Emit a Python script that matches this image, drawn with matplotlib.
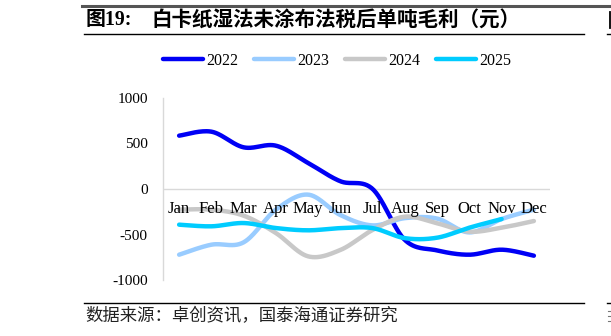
import numpy as np
import matplotlib
matplotlib.use("Agg")
import matplotlib.pyplot as plt
from matplotlib.lines import Line2D
import matplotlib.transforms as mtransforms

months = ["Jan", "Feb", "Mar", "Apr", "May", "Jun", "Jul", "Aug", "Sep", "Oct", "Nov", "Dec"]
y2022 = [586, 630, 458, 476, 286, 85, 0, -560, -675, -722, -667, -733]
y2023 = [-722, -612, -586, -227, -62, -286, -400, -320, -325, -477, -330, -227]
y2024 = [-227, -227, -293, -484, -740, -670, -450, -304, -377, -469, -425, -352]
y2025 = [-392, -410, -374, -429, -454, -430, -430, -540, -535, -425, -330]
series_names = ["2022", "2023", "2024", "2025"]
series_vals = [y2022, y2023, y2024, y2025]
colors = ["#0000F5", "#99CCFF", "#C8C8C8", "#00CCFF"]
yticks = [-1000, -500, 0, 500, 1000]

title_head = "图19:"
title_body = "白卡纸湿法未涂布法税后单吨毛利（元）"
source = "数据来源：卓创资讯，国泰海通证券研究"

SERIF = ["Liberation Serif", "Noto Sans CJK SC"]
CJK = ["Noto Sans CJK SC", "DejaVu Sans"]


def smooth(xs, ys, n=30):
    xs = np.asarray(xs, float)
    ys = np.asarray(ys, float)
    pts = np.column_stack([xs, ys])
    m = len(pts)
    out = []
    for i in range(m - 1):
        p0 = pts[i - 1] if i > 0 else pts[i]
        p1 = pts[i]
        p2 = pts[i + 1]
        p3 = pts[i + 2] if i + 2 < m else pts[i + 1]
        c1 = p1 + (p2 - p0) / 6.0
        c2 = p2 - (p3 - p1) / 6.0
        t = np.linspace(0, 1, n)[:, None]
        seg = ((1 - t) ** 3) * p1 + 3 * ((1 - t) ** 2) * t * c1 + 3 * (1 - t) * t ** 2 * c2 + t ** 3 * p2
        out.append(seg if i == 0 else seg[1:])
    res = np.vstack(out)
    return res[:, 0], res[:, 1]


fig = plt.figure(figsize=(6.11, 3.36), dpi=100)
W, H = 611, 336

ax = fig.add_axes([163 / W, (H - 280) / H, (550 - 163) / W, (280 - 98) / H])
x = np.arange(len(months))

trans = mtransforms.blended_transform_factory(ax.transData, ax.transData) + \
    mtransforms.ScaledTranslation(0, -20 / 100, fig.dpi_scale_trans)
for xi, m in zip(x, months):
    ax.text(xi, 0, m, transform=trans, ha="center", va="center",
            family=SERIF, fontsize=12, color="black", zorder=5)

for name, vals, c in zip(series_names, series_vals, colors):
    xs, ys = smooth(x[:len(vals)], vals)
    ax.plot(xs, ys, color=c, lw=3.2, solid_capstyle="round", label=name, zorder=3)

ax.set_xlim(-0.5, len(months) - 0.5)
ax.set_ylim(-1000, 1000)
ax.axhline(0, color="#D9D9D9", lw=1.0, zorder=1)
for s in ["top", "right", "bottom"]:
    ax.spines[s].set_visible(False)
ax.spines["left"].set_color("#D9D9D9")
ax.spines["left"].set_linewidth(1.0)
ax.set_xticks([])
ax.set_yticks(yticks)
ax.set_yticklabels([str(v) for v in yticks], family=SERIF, fontsize=11)
ax.tick_params(axis="y", length=0, pad=11)

handles = [Line2D([0], [0], color=c, lw=3.2, solid_capstyle="round") for c in colors]
fig.legend(handles, series_names, loc="center", bbox_to_anchor=(337 / W, 1 - 61 / H),
           ncol=4, frameon=False, prop={"family": SERIF, "size": 11.5},
           handlelength=2.5, handletextpad=0.2, columnspacing=1.0)

# Decorative frame lines
fig.add_artist(Line2D([82 / W, 1.0], [1 - 6 / H] * 2, color="#555555", lw=2.2))
fig.add_artist(Line2D([84 / W, 584 / W], [1 - 34 / H] * 2, color="black", lw=1.0))
fig.add_artist(Line2D([607 / W, 1.0], [1 - 34 / H] * 2, color="black", lw=1.0))
fig.add_artist(Line2D([84 / W, 584 / W], [1 - 303 / H] * 2, color="black", lw=1.0))
fig.add_artist(Line2D([607 / W, 1.0], [1 - 303 / H] * 2, color="black", lw=1.0))
# fragments of the neighbouring chart at the right edge
fig.add_artist(Line2D([610 / W] * 2, [1 - 12 / H, 1 - 28 / H], color="black", lw=1.3))
fig.add_artist(Line2D([608 / W, 1.0], [1 - 311 / H] * 2, color="#777777", lw=0.8))
fig.add_artist(Line2D([608 / W, 1.0], [1 - 316 / H] * 2, color="#777777", lw=0.8))
fig.add_artist(Line2D([608 / W, 1.0], [1 - 321 / H] * 2, color="#777777", lw=0.8))

fig.text(86 / W, 1 - 20 / H, title_head, family=SERIF, fontsize=14.3, fontweight="bold",
         ha="left", va="center", color="black")
fig.text(151 / W, 1 - 20 / H, title_body, family=CJK, fontsize=14.8, fontweight="bold",
         ha="left", va="center", color="black")
fig.text(85 / W, 1 - 316 / H, source, family=CJK, fontsize=12.5, ha="left", va="center",
         color="#222222")

fig.savefig("out.png", dpi=100)
